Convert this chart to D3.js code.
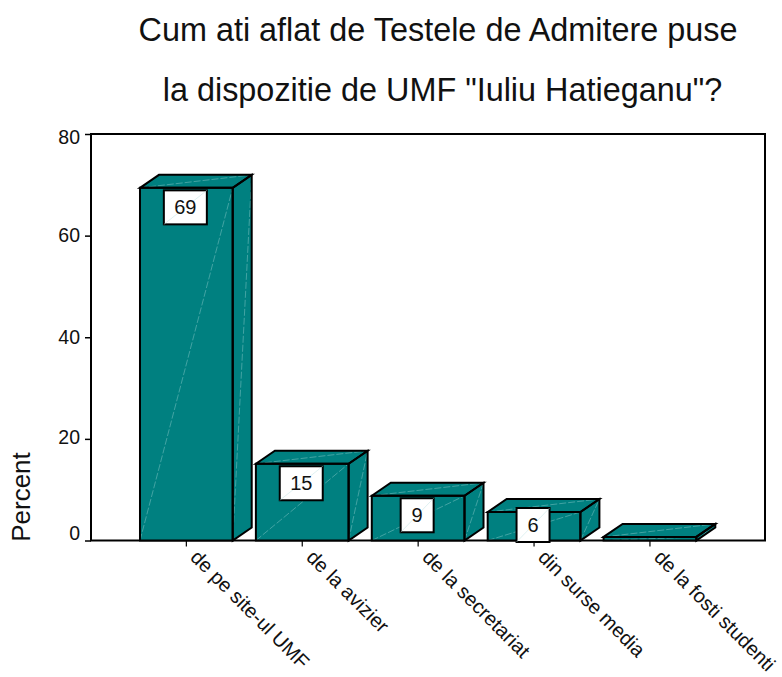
<!DOCTYPE html>
<html>
<head>
<meta charset="utf-8">
<script src="https://cdn.jsdelivr.net/npm/d3@7"></script>
<style>
  html, body { margin: 0; padding: 0; background: #fff; }
  text { font-family: "Liberation Sans", Arial, sans-serif; fill: #111; }
</style>
</head>
<body>
<div id="graph"></div>
<script>
var titleLines = ['Cum ati aflat de Testele de Admitere puse', 'la dispozitie de UMF "Iuliu Hatieganu"?'];
var categories = ['de pe site-ul UMF', 'de la avizier', 'de la secretariat', 'din surse media', 'de la fosti studenti'];
var percents = [69.4, 15.1, 8.8, 5.6, 0.7];
var valueLabels = ['69', '15', '9', '6', ''];
var yTicks = [0, 20, 40, 60, 80];

var width = 782;
var height = 677;
var left = 91, right = 765, top_ = 134, bottom = 540.5;
var depthX = 19, depthY = 13;

var svg = d3.select('#graph')
  .append('svg')
  .attr('width', width)
  .attr('height', height)
  .style('display', 'block');

var x = d3.scaleBand()
  .domain(categories)
  .range([128.4, 707.9])
  .paddingInner(0.2)
  .paddingOuter(0.1);

var y = d3.scaleLinear()
  .domain([0, 80])
  .range([bottom, top_]);

// title
svg.selectAll('.title')
  .data(titleLines)
  .enter()
  .append('text')
  .attr('class', 'title')
  .attr('x', function(d, i) { return i ? 442.5 : 438; })
  .attr('y', function(d, i) { return 41 + i * 60; })
  .attr('text-anchor', 'middle')
  .style('font-size', '32.4px')
  .text(function(d) { return d; });

// frame
svg.append('rect')
  .attr('x', left)
  .attr('y', top_)
  .attr('width', right - left)
  .attr('height', bottom - top_)
  .attr('fill', 'none')
  .attr('stroke', '#000')
  .attr('stroke-width', 2);

// bars
var bars = svg.selectAll('.bar')
  .data(categories)
  .enter()
  .append('g')
  .attr('class', 'bar');

function poly(pts) {
  return pts.map(function(p) { return p.join(','); }).join(' ');
}

bars.each(function(c, i) {
  var g = d3.select(this);
  var x0 = x(c), x1 = x0 + x.bandwidth();
  var yt = y(percents[i]);

  var front = [[x0, bottom], [x0, yt], [x1, yt], [x1, bottom]];
  var top3d = [[x0, yt], [x0 + depthX, yt - depthY], [x1 + depthX, yt - depthY], [x1, yt]];
  var side = [[x1, yt], [x1 + depthX, yt - depthY], [x1 + depthX, bottom - depthY], [x1, bottom]];

  [front, top3d, side].forEach(function(face) {
    g.append('polygon')
      .attr('points', poly(face))
      .attr('fill', '#008080')
      .attr('stroke', 'none');
  });

  // faint diagonals on the faces
  var diagonals = [
    [x0, bottom, x1, yt],
    [x0, yt, x1 + depthX, yt - depthY],
    [x1, bottom, x1 + depthX, yt - depthY]
  ];
  diagonals.forEach(function(d) {
    g.append('line')
      .attr('x1', d[0]).attr('y1', d[1])
      .attr('x2', d[2]).attr('y2', d[3])
      .attr('stroke', '#9fd4d4')
      .attr('stroke-width', 0.6)
      .attr('stroke-opacity', 0.7)
      .attr('stroke-dasharray', '7 2');
  });

  [front, top3d, side].forEach(function(face) {
    g.append('polygon')
      .attr('points', poly(face))
      .attr('fill', 'none')
      .attr('stroke', '#000')
      .attr('stroke-width', 2)
      .attr('stroke-linejoin', 'miter');
  });
});

// y axis
var yAxis = d3.axisLeft(y)
  .tickValues(yTicks)
  .tickSize(6)
  .tickPadding(5);

var yG = svg.append('g')
  .attr('transform', 'translate(' + left + ',0)')
  .call(yAxis);
yG.select('.domain').remove();
yG.selectAll('line').attr('stroke', '#000').attr('stroke-width', 1.5);
// the labels do not sit quite level with their ticks in the original
var yNudge = d3.scaleOrdinal().domain(yTicks).range([-7, -2, 0, 0, 3]);
yG.selectAll('text')
  .attr('font-family', null)
  .attr('y', function(d) { return yNudge(d); })
  .style('font-size', '19.5px');

// x axis
var xAxis = d3.axisBottom(x)
  .tickSize(6)
  .tickFormat('');

var xG = svg.append('g')
  .attr('transform', 'translate(0,' + bottom + ')')
  .call(xAxis);
xG.select('.domain').remove();
xG.selectAll('line').attr('stroke', '#000').attr('stroke-width', 1.2);

// slanted category labels
svg.selectAll('.cat')
  .data(categories)
  .enter()
  .append('text')
  .attr('class', 'cat')
  .attr('transform', function(d) {
    return 'translate(' + (x(d) + x.bandwidth() / 2 + 3) + ',' + (bottom + 18) + ') rotate(45)';
  })
  .style('font-size', '20px')
  .text(function(d) { return d; });

// value boxes
var boxes = svg.selectAll('.val')
  .data(categories.filter(function(c, i) { return valueLabels[i] !== ''; }))
  .enter()
  .append('g')
  .attr('class', 'val');

boxes.each(function(c, i) {
  var g = d3.select(this);
  var cx = x(c) + x.bandwidth() / 2 - 1;
  var w = valueLabels[i].length > 1 ? 43 : 33;
  var h = 34;
  var yb = Math.min(y(percents[i]) + 2.5, bottom + 1.5 - h);
  g.append('rect')
    .attr('x', cx - w / 2)
    .attr('y', yb)
    .attr('width', w)
    .attr('height', h)
    .attr('fill', '#fff')
    .attr('stroke', '#000')
    .attr('stroke-width', 2);
  g.append('line')
    .attr('x1', cx - w / 2).attr('y1', yb + h)
    .attr('x2', cx + w / 2).attr('y2', yb)
    .attr('stroke', '#bfe3e3')
    .attr('stroke-width', 0.5);
  g.append('text')
    .attr('x', cx)
    .attr('y', yb + h / 2 + 7)
    .attr('text-anchor', 'middle')
    .style('font-size', '20px')
    .text(valueLabels[i]);
});

// y axis title
svg.append('text')
  .attr('transform', 'translate(30,497) rotate(-90)')
  .attr('text-anchor', 'middle')
  .style('font-size', '26px')
  .text('Percent');
</script>
</body>
</html>
